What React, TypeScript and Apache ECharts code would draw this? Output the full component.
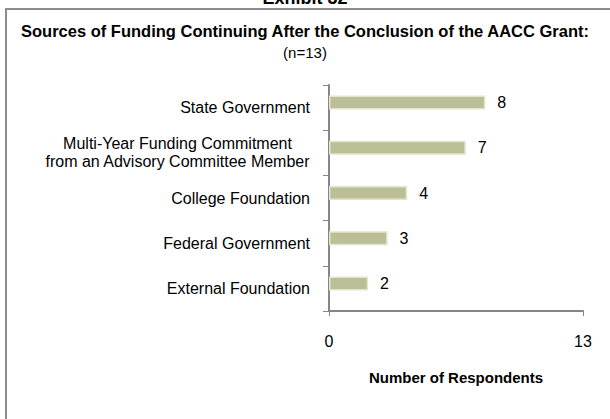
import React, { useEffect, useRef } from "react";
import * as echarts from "echarts";

const categories = [
  "State Government",
  "Multi-Year Funding Commitment\nfrom an Advisory Committee Member",
  "College Foundation",
  "Federal Government",
  "External Foundation",
];
const respondents = [8, 7, 4, 3, 2];
const xTicks = [0, 13];

const FONT = "'Liberation Sans', Arial, sans-serif";

export default function App() {
  const ref = useRef<HTMLDivElement>(null);
  useEffect(() => {
    if (!ref.current) return;
    const chart = echarts.init(ref.current, undefined, { renderer: "svg" });
    chart.setOption({
      animation: false,
      backgroundColor: "#ffffff",
      textStyle: { fontFamily: FONT },
      graphic: [
        {
          type: "rect",
          shape: { x: 6, y: 9, width: 700, height: 500 },
          style: { fill: "none", stroke: "#8c8c8c", lineWidth: 2 },
          silent: true,
        },
        {
          type: "text",
          x: 305,
          y: 7,
          style: {
            text: "Exhibit 32",
            font: `bold 18px ${FONT}`,
            fill: "#000",
            align: "center",
            verticalAlign: "bottom",
          },
        },
        {
          type: "text",
          x: 305,
          y: 31,
          style: {
            text: "Sources of Funding Continuing After the Conclusion of the AACC Grant:",
            font: `bold 16.5px ${FONT}`,
            fill: "#000",
            align: "center",
            verticalAlign: "middle",
          },
        },
        {
          type: "text",
          x: 305,
          y: 52,
          style: {
            text: "(n=13)",
            font: `15px ${FONT}`,
            fill: "#000",
            align: "center",
            verticalAlign: "middle",
          },
        },
      ],
      grid: { left: 329, right: 27, top: 85, bottom: 108, containLabel: false },
      xAxis: {
        type: "value",
        min: 0,
        max: 13,
        interval: 13,
        splitLine: { show: false },
        axisLine: { show: true, lineStyle: { color: "#868686", width: 2 } },
        axisTick: { show: true, length: 5, lineStyle: { color: "#868686", width: 1 } },
        axisLabel: {
          margin: 22,
          fontSize: 16,
          color: "#000",
          formatter: (v: number) => (xTicks.includes(v) ? String(v) : ""),
        },
        name: "Number of Respondents",
        nameLocation: "middle",
        nameGap: 59,
        nameTextStyle: { fontSize: 15, fontWeight: "bold", color: "#000" },
      },
      yAxis: {
        type: "category",
        data: categories,
        inverse: true,
        axisLine: { show: true, lineStyle: { color: "#868686", width: 2 } },
        axisTick: { show: true, length: 6, lineStyle: { color: "#868686", width: 1 } },
        axisLabel: {
          margin: 19,
          fontSize: 16,
          color: "#000",
          lineHeight: 18,
          formatter: (v: string) =>
            v
              .split("\n")
              .map((l) => `{c|${l}}`)
              .join("\n"),
          rich: { c: { align: "center", fontSize: 16, color: "#000", lineHeight: 18 } },
        },
      },
      series: [
        {
          type: "bar",
          data: respondents,
          barWidth: 14,
          itemStyle: { color: "#bcbf95", borderColor: "#e3e4d0", borderWidth: 1.5 },
          label: { show: true, position: "right", distance: 12, fontSize: 16, color: "#000" },
        },
        {
          type: "bar",
          data: respondents.map(() => null),
          barWidth: 10,
          barGap: "0%",
          itemStyle: { color: "transparent" },
        },
      ],
    });
    return () => chart.dispose();
  }, []);
  return (
    <div
      ref={ref}
      style={{ position: "fixed", left: 0, top: 0, width: 610, height: 419 }}
    />
  );
}
